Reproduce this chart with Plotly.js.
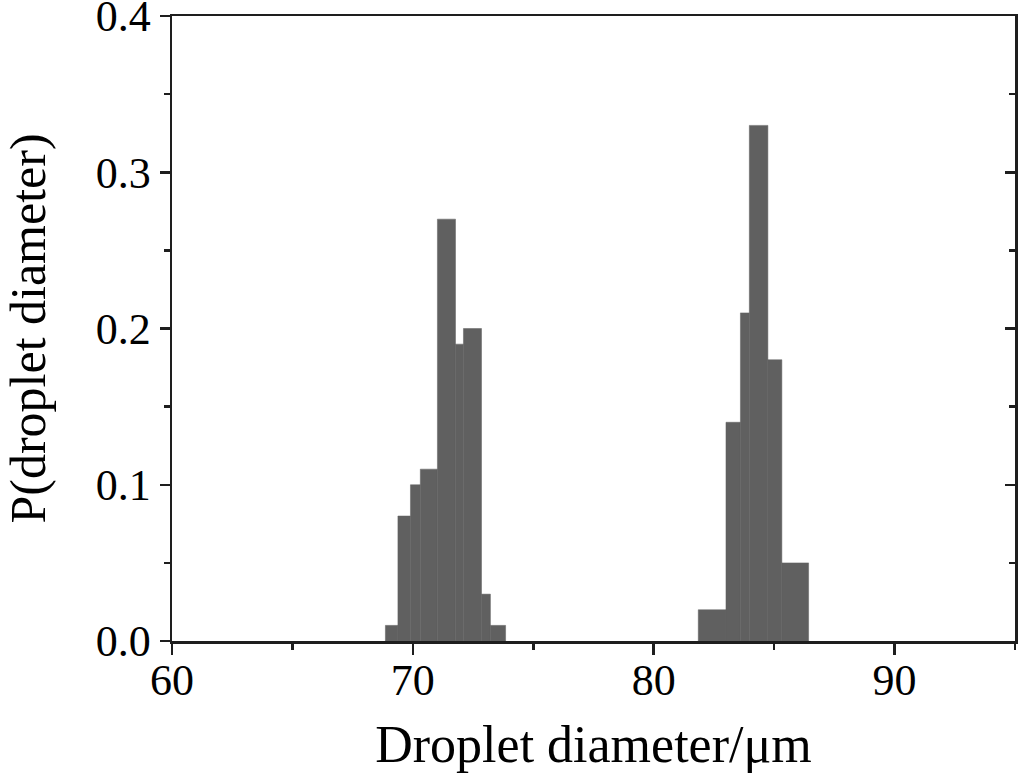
<!DOCTYPE html>
<html>
<head>
<meta charset="utf-8">
<script src="https://cdn.plot.ly/plotly-3.0.1.min.js"></script>
<style>html,body{margin:0;padding:0;background:#fff;}#chart{width:1024px;height:776px;}</style>
</head>
<body>
<div id="chart"></div>
<script>
// Bin edges (µm) and probabilities
var edgesLow = [68.86, 69.38, 69.9, 70.31, 71.02, 71.77, 72.1, 72.85, 73.22, 73.85];
var probLow = [0.01, 0.08, 0.10, 0.11, 0.27, 0.19, 0.20, 0.03, 0.01];
var edgesHigh = [81.85, 83.0, 83.6, 83.97, 84.74, 85.32, 86.43];
var probHigh = [0.02, 0.14, 0.21, 0.33, 0.18, 0.05];
var xTickVals = [60, 70, 80, 90];
var yTickVals = [0.0, 0.1, 0.2, 0.3, 0.4];
var yTickText = ['0.0', '0.1', '0.2', '0.3', '0.4'];

function toBars(edges, vals) {
  var x = [], w = [];
  for (var i = 0; i < vals.length; i++) {
    x.push((edges[i] + edges[i + 1]) / 2);
    w.push(edges[i + 1] - edges[i]);
  }
  return {x: x, w: w};
}
var a = toBars(edgesLow, probLow);
var b = toBars(edgesHigh, probHigh);
var allX = a.x.concat(b.x), allW = a.w.concat(b.w), allY = probLow.concat(probHigh);

var barColor = '#606060';
var lineColor = '#1e1e1e';
var font = {family: 'Liberation Serif, Times New Roman, serif', color: '#000'};

var traces = [
  {type: 'bar', x: allX, y: allY, width: allW,
   marker: {color: barColor, line: {color: barColor, width: 0.5}},
   hoverinfo: 'x+y', showlegend: false},
  {type: 'scatter', x: [], y: [], yaxis: 'y2', showlegend: false, hoverinfo: 'skip'}
];

var layout = {
  width: 1024, height: 776,
  margin: {l: 172, r: 9, t: 16, b: 135},
  paper_bgcolor: '#fff', plot_bgcolor: '#fff',
  font: font,
  bargap: 0,
  xaxis: {
    range: [60, 95], tickvals: xTickVals, ticks: 'outside', ticklen: 11, tickwidth: 2.5, tickcolor: lineColor,
    minor: {dtick: 5, tick0: 60, ticks: 'outside', ticklen: 6, tickwidth: 2.5, tickcolor: lineColor},
    showline: true, linewidth: 2.5, linecolor: lineColor, mirror: true,
    showgrid: false, zeroline: false, ticklabeloverflow: 'allow', ticklabelstandoff: -12,
    tickfont: {family: font.family, size: 44, color: '#000'},
    title: {text: 'Droplet diameter/\u03bcm', font: {family: font.family, size: 52, color: '#000'}, standoff: 22}
  },
  yaxis: {
    range: [0, 0.4], tickvals: yTickVals, ticktext: yTickText, ticks: 'outside', ticklen: 10, tickwidth: 2.5, tickcolor: lineColor,
    minor: {dtick: 0.05, tick0: 0, ticks: 'outside', ticklen: 6, tickwidth: 2.5, tickcolor: lineColor},
    showline: true, linewidth: 2.5, linecolor: lineColor, mirror: true,
    showgrid: false, zeroline: false, ticklabeloverflow: 'allow',
    tickfont: {family: font.family, size: 44, color: '#000'},
    title: {text: 'P(droplet diameter)', font: {family: font.family, size: 50, color: '#000'}, standoff: 40}
  },
  yaxis2: {
    overlaying: 'y', side: 'right', range: [0, 0.4], tickvals: yTickVals, showticklabels: false,
    ticks: 'inside', ticklen: 10, tickwidth: 2.5, tickcolor: lineColor,
    minor: {dtick: 0.05, tick0: 0, ticks: 'inside', ticklen: 6, tickwidth: 2.5, tickcolor: lineColor},
    showline: true, linewidth: 2.5, linecolor: lineColor, showgrid: false, zeroline: false
  }
};

Plotly.newPlot('chart', traces, layout, {displayModeBar: false, staticPlot: true});
</script>
</body>
</html>
